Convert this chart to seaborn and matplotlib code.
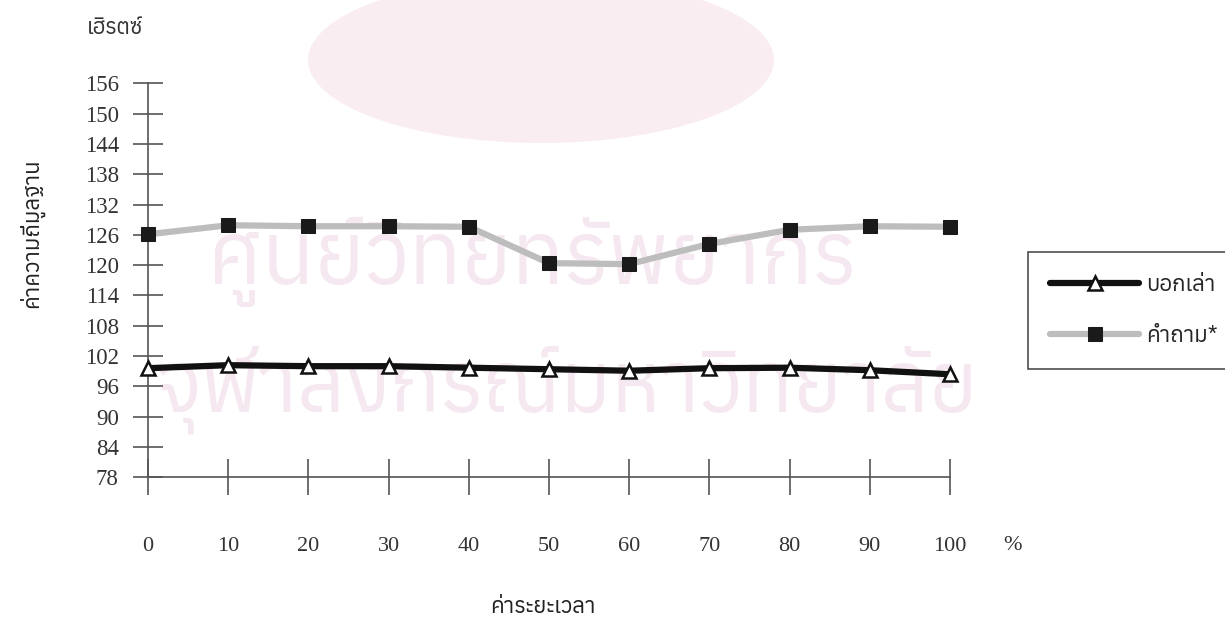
import matplotlib
matplotlib.use("Agg")
import matplotlib.pyplot as plt
import seaborn as sns
import pandas as pd
from matplotlib import font_manager as fm
from matplotlib.ft2font import FT2Font
from matplotlib.patches import Ellipse

# ---------------- data ----------------
x_values = [0, 10, 20, 30, 40, 50, 60, 70, 80, 90, 100]
narrative = [99.6, 100.2, 100.0, 100.0, 99.7, 99.4, 99.1, 99.6, 99.7, 99.2, 98.4]
question = [126.1, 127.9, 127.7, 127.7, 127.6, 120.4, 120.2, 124.2, 127.0, 127.7, 127.6]
series_names = ["บอกเล่า", "คำถาม*"]
y_ticks = [78, 84, 90, 96, 102, 108, 114, 120, 126, 132, 138, 144, 150, 156]
y_unit = "เฮิรตซ์"
x_title = "ค่าระยะเวลา"
y_title = "ค่าความถี่มูลฐาน"
x_unit = "%"
watermark_lines = ["ศูนย์วิทยทรัพยากร", "จุฬาลงกรณ์มหาวิทยาลัย"]

# ---------------- find a Thai-capable font ----------------
thai_family = None
cands = []
for f in fm.fontManager.ttflist:
    try:
        ft = FT2Font(f.fname)
        if ord("ก") in ft.get_charmap():
            cands.append(f.name)
    except Exception:
        pass
if cands:
    thai_family = sorted(set(cands))[0]
fam = [thai_family, "DejaVu Sans"] if thai_family else ["DejaVu Sans"]

sns.set_theme(style="white")
plt.rcParams["font.family"] = fam

df = pd.DataFrame({
    "x": x_values * 2,
    "y": narrative + question,
    "series": [series_names[0]] * len(x_values) + [series_names[1]] * len(x_values),
})

fig = plt.figure(figsize=(12.25, 6.22), dpi=100)
fig.patch.set_facecolor("white")

# faint watermark (scan background), drawn beneath the axes
fig.patches.append(Ellipse((541 / 1225, 1 - 60 / 622), 466 / 1225, 166 / 622,
                           transform=fig.transFigure,
                           facecolor="#f9edf2", edgecolor="none", zorder=-2))
if thai_family:
    fig.text(532 / 1225, 1 - 262 / 622, watermark_lines[0], fontsize=62, color="#f6e8f0",
             ha="center", va="center", family=fam, zorder=-2)
    fig.text(567 / 1225, 1 - 390 / 622, watermark_lines[1], fontsize=60, color="#f6e8f0",
             ha="center", va="center", family=fam, zorder=-2)

ax = fig.add_axes([0.1208, 0.2326, 0.6547, 0.6335])
ax.set_facecolor("none")
ax.set_zorder(1)

d1 = df[df["series"] == series_names[0]]
d2 = df[df["series"] == series_names[1]]
sns.lineplot(data=d2, x="x", y="y", ax=ax, color="#bdbdbd", lw=4.5,
             marker="s", markersize=10, markerfacecolor="#1a1a1a",
             markeredgecolor="#1a1a1a", label=series_names[1], clip_on=False, zorder=3)
sns.lineplot(data=d1, x="x", y="y", ax=ax, color="#111111", lw=4.5,
             marker="^", markersize=9.5, markerfacecolor="white",
             markeredgecolor="#111111", markeredgewidth=1.8,
             label=series_names[0], clip_on=False, zorder=4)

ax.set_xlim(0, 100)
ax.set_ylim(78, 156)
ax.set_xticks(x_values)
ax.set_yticks(y_ticks)
ax.set_xlabel("")
ax.set_ylabel("")
for s in ["top", "right"]:
    ax.spines[s].set_visible(False)
for s in ["left", "bottom"]:
    ax.spines[s].set_color("#555555")
    ax.spines[s].set_linewidth(1.2)

ax.tick_params(axis="y", direction="inout", length=22, width=1.2, color="#555555",
               pad=10, labelsize=16.5, labelcolor="#333333", left=True)
ax.tick_params(axis="x", direction="inout", length=26, width=1.2, color="#555555",
               pad=30, labelsize=16, labelcolor="#333333", bottom=True)
for lab in ax.get_xticklabels() + ax.get_yticklabels():
    lab.set_family("Liberation Serif")

fig.text(1012 / 1225, 1 - 545 / 622, x_unit, fontsize=16, color="#333333",
         family="Liberation Serif", ha="center", va="center")
fig.text(115 / 1225, 1 - 28 / 622, y_unit, fontsize=16, color="#333333",
         family=fam, ha="center", va="center")
fig.text(543 / 1225, 1 - 607 / 622, x_title, fontsize=16, color="#222222",
         family=fam, weight="bold", ha="center", va="center")
fig.text(32 / 1225, 1 - 233 / 622, y_title, fontsize=16, color="#222222",
         family=fam, weight="bold", ha="center", va="center", rotation=90)

h, l = ax.get_legend_handles_labels()
order = [l.index(series_names[0]), l.index(series_names[1])]
leg = fig.legend([h[i] for i in order], [l[i] for i in order],
                 loc="upper left", bbox_to_anchor=(1028 / 1225, 1 - 252 / 622),
                 bbox_transform=fig.transFigure, frameon=True,
                 fancybox=False, edgecolor="#222222", handlelength=4,
                 labelspacing=1.3, borderpad=1.0, handletextpad=0.3,
                 borderaxespad=0, prop={"family": fam, "size": 16})
leg.get_frame().set_linewidth(1.2)
if ax.get_legend():
    ax.get_legend().remove()

fig.savefig("out.png", dpi=100, facecolor="white")
